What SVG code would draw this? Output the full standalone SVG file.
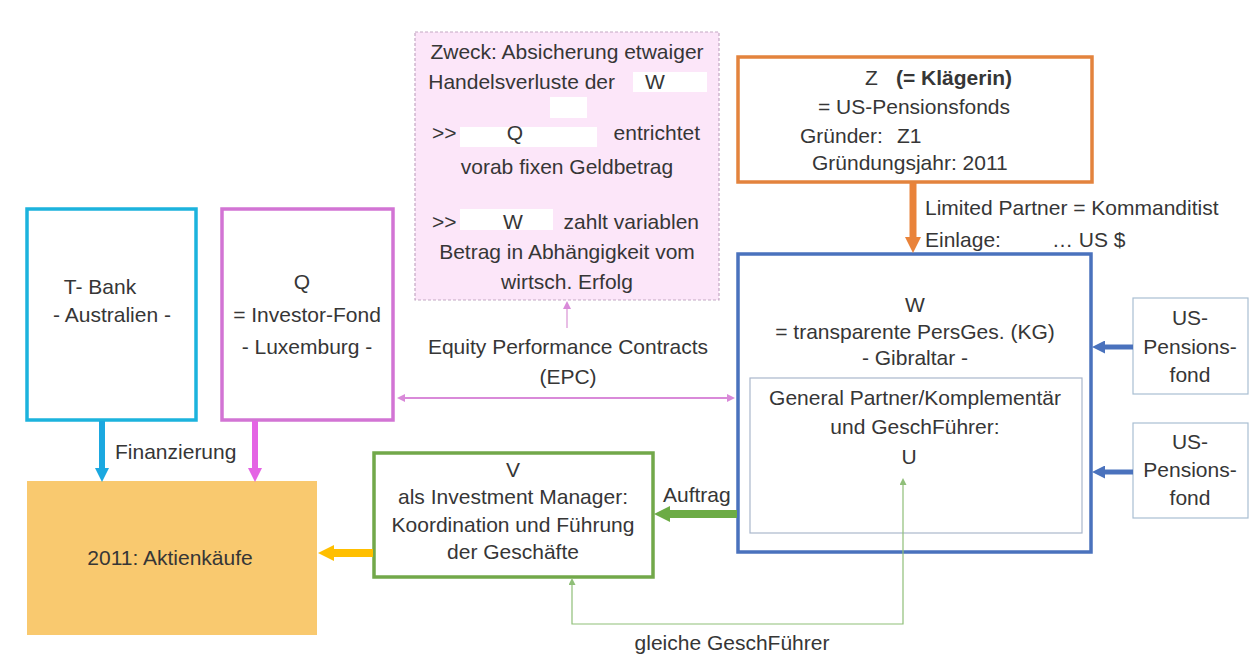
<svg xmlns="http://www.w3.org/2000/svg" width="1253" height="662" viewBox="0 0 1253 662">
<style>
text{font-family:"Liberation Sans",Arial,sans-serif;font-size:21px;fill:#363636}
.m{text-anchor:middle}
.e{text-anchor:end}
.b{font-weight:bold}
.box{fill:#fff}
.redact{fill:#fff}
</style>
<defs>
<marker id="hCyan" markerUnits="userSpaceOnUse" viewBox="0 0 10 10" refX="0" refY="5" markerWidth="14" markerHeight="14" orient="auto"><path d="M0,0L10,5L0,10z" fill="#1ba8e0"/></marker>
<marker id="hMag" markerUnits="userSpaceOnUse" viewBox="0 0 10 10" refX="0" refY="5" markerWidth="14" markerHeight="14" orient="auto"><path d="M0,0L10,5L0,10z" fill="#e464e4"/></marker>
<marker id="hOrange" markerUnits="userSpaceOnUse" viewBox="0 0 10 10" refX="0" refY="5" markerWidth="16" markerHeight="16" orient="auto"><path d="M0,0L10,5L0,10z" fill="#e9833a"/></marker>
<marker id="hBlue" markerUnits="userSpaceOnUse" viewBox="0 0 10 10" refX="0" refY="5" markerWidth="13" markerHeight="13" orient="auto"><path d="M0,0L10,5L0,10z" fill="#4a72bd"/></marker>
<marker id="hGreen" markerUnits="userSpaceOnUse" viewBox="0 0 10 10" refX="0" refY="5" markerWidth="16" markerHeight="16" orient="auto"><path d="M0,0L10,5L0,10z" fill="#6cab45"/></marker>
<marker id="hYellow" markerUnits="userSpaceOnUse" viewBox="0 0 10 10" refX="0" refY="5" markerWidth="16" markerHeight="16" orient="auto"><path d="M0,0L10,5L0,10z" fill="#ffbf00"/></marker>
<marker id="hPink" markerUnits="userSpaceOnUse" viewBox="0 0 10 10" refX="0" refY="5" markerWidth="8" markerHeight="8" orient="auto-start-reverse"><path d="M0,0L10,5L0,10z" fill="#d98ad9"/></marker>
<marker id="hGreenS" markerUnits="userSpaceOnUse" viewBox="0 0 10 10" refX="0" refY="5" markerWidth="7" markerHeight="7" orient="auto-start-reverse"><path d="M0,0L10,5L0,10z" fill="#8fbf78"/></marker>
</defs>
<rect width="1253" height="662" fill="#fff"/>

<g id="purpose">
<rect x="415" y="32" width="304" height="268" fill="#fce6f9" stroke="#c4a8c4" stroke-width="1.2" stroke-dasharray="3,2"/>
<rect class="redact" x="633" y="72" width="74" height="20"/>
<rect class="redact" x="550" y="97" width="37" height="21"/>
<rect class="redact" x="460" y="127" width="137" height="20"/>
<rect class="redact" x="460" y="209" width="93" height="21"/>
<text class="m" x="567" y="59">Zweck: Absicherung etwaiger</text>
<text class="e" x="615" y="89">Handelsverluste der</text>
<text class="m" x="655" y="89">W</text>
<text x="432" y="140">&gt;&gt;</text>
<text class="m" x="515" y="140">Q</text>
<text class="e" x="700" y="140">entrichtet</text>
<text class="m" x="567" y="174">vorab fixen Geldbetrag</text>
<text x="432" y="229">&gt;&gt;</text>
<text class="m" x="513" y="229">W</text>
<text class="e" x="699" y="229">zahlt variablen</text>
<text class="m" x="567" y="259">Betrag in Abhängigkeit vom</text>
<text class="m" x="567" y="289">wirtsch. Erfolg</text>
</g>

<g id="tbank">
<rect class="box" x="27" y="209" width="169" height="211" stroke="#1cb3dd" stroke-width="3.5"/>
<text class="m" x="100" y="294">T- Bank</text>
<text class="m" x="112" y="322">- Australien -</text>
</g>

<g id="q">
<rect class="box" x="222" y="209" width="171" height="211" stroke="#d274d4" stroke-width="3.5"/>
<text class="m" x="302" y="289">Q</text>
<text class="m" x="307" y="322">= Investor-Fond</text>
<text class="m" x="307" y="354">- Luxemburg -</text>
</g>

<g id="z">
<rect class="box" x="738" y="57" width="354" height="125" stroke="#e3833d" stroke-width="3.5"/>
<text x="865" y="85">Z <tspan class="b" x="896">(= Klägerin)</tspan></text>
<text class="m" x="914" y="114">= US-Pensionsfonds</text>
<text x="800" y="143">Gründer:</text>
<text x="897" y="143">Z1</text>
<text x="812" y="170">Gründungsjahr: 2011</text>
</g>

<g id="w">
<rect class="box" x="738" y="254" width="353" height="298" stroke="#4a72bd" stroke-width="3.5"/>
<text class="m" x="915" y="312">W</text>
<text class="m" x="915" y="339">= transparente PersGes. (KG)</text>
<text class="m" x="915" y="365">- Gibraltar -</text>
</g>

<g id="u">
<rect x="750" y="378" width="332" height="155" fill="none" stroke="#aab7cc" stroke-width="1.2"/>
<text class="m" x="915" y="405">General Partner/Komplementär</text>
<text class="m" x="915" y="434">und GeschFührer:</text>
<text class="m" x="909" y="464">U</text>
</g>

<g id="us1">
<rect class="box" x="1133" y="298" width="115" height="96" stroke="#a9bfd2" stroke-width="1.2"/>
<text class="m" x="1190" y="325">US-</text>
<text class="m" x="1190" y="354">Pensions-</text>
<text class="m" x="1190" y="382">fond</text>
</g>

<g id="us2">
<rect class="box" x="1133" y="423" width="115" height="95" stroke="#a9bfd2" stroke-width="1.2"/>
<text class="m" x="1190" y="449">US-</text>
<text class="m" x="1190" y="477">Pensions-</text>
<text class="m" x="1190" y="505">fond</text>
</g>

<g id="v">
<rect class="box" x="374" y="453" width="279" height="124" stroke="#72a84a" stroke-width="3.5"/>
<text class="m" x="513" y="477">V</text>
<text class="m" x="513" y="504">als Investment Manager:</text>
<text class="m" x="513" y="532">Koordination und Führung</text>
<text class="m" x="513" y="559">der Geschäfte</text>
</g>

<g id="aktien">
<rect x="27" y="481" width="290" height="154" fill="#f9c96f"/>
<text class="m" x="170" y="565">2011: Aktienkäufe</text>
</g>

<g id="connectors" fill="none">
<line x1="102" y1="421" x2="102" y2="468" stroke="#1ba8e0" stroke-width="6" marker-end="url(#hCyan)"/>
<line x1="255" y1="421" x2="255" y2="468" stroke="#e464e4" stroke-width="6" marker-end="url(#hMag)"/>
<line x1="913" y1="183" x2="913" y2="237" stroke="#e9833a" stroke-width="7" marker-end="url(#hOrange)"/>
<line x1="1133" y1="347" x2="1105" y2="347" stroke="#4a72bd" stroke-width="5" marker-end="url(#hBlue)"/>
<line x1="1133" y1="472" x2="1105" y2="472" stroke="#4a72bd" stroke-width="5" marker-end="url(#hBlue)"/>
<line x1="737" y1="514" x2="670" y2="514" stroke="#6cab45" stroke-width="8" marker-end="url(#hGreen)"/>
<line x1="373" y1="553" x2="334" y2="553" stroke="#ffbf00" stroke-width="8" marker-end="url(#hYellow)"/>
<line x1="405" y1="398" x2="727" y2="398" stroke="#d98ad9" stroke-width="2" marker-start="url(#hPink)" marker-end="url(#hPink)"/>
<line x1="567" y1="328" x2="567" y2="309" stroke="#e0a8dc" stroke-width="1.5" marker-end="url(#hPink)"/>
<path d="M903,485V624H572V585" stroke="#8fbf78" stroke-width="1.2" marker-start="url(#hGreenS)" marker-end="url(#hGreenS)"/>
<text x="115" y="459">Finanzierung</text>
<text x="663" y="502">Auftrag</text>
<text class="m" x="732" y="650">gleiche GeschFührer</text>
<text class="m" x="568" y="354">Equity Performance Contracts</text>
<text class="m" x="568" y="384">(EPC)</text>
<text x="925" y="215">Limited Partner = Kommanditist</text>
<text x="925" y="247">Einlage:</text>
<text x="1052" y="247">… US $</text>
</g>
</svg>
